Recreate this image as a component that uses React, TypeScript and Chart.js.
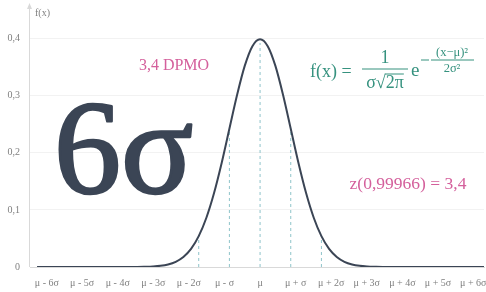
import React, { useEffect, useRef } from "react";
import { Chart, registerables } from "chart.js";

Chart.register(...registerables);

// Curve points (x in σ units from μ, y = density)
const curveX = [-7.27, -4, -3.75, -3.5, -3.25, -3, -2.75, -2.5, -2.25, -2, -1.75, -1.5, -1.25, -1, -0.75, -0.5, -0.25, 0, 0.25, 0.5, 0.75, 1, 1.25, 1.5, 1.75, 2, 2.25, 2.5, 2.75, 3, 3.25, 3.5, 3.75, 4, 7.3];
const curveY = [0, 0.0001, 0.0004, 0.0009, 0.002, 0.0044, 0.0091, 0.0175, 0.0317, 0.054, 0.0863, 0.1295, 0.1826, 0.242, 0.3011, 0.3521, 0.3867, 0.3989, 0.3867, 0.3521, 0.3011, 0.242, 0.1826, 0.1295, 0.0863, 0.054, 0.0317, 0.0175, 0.0091, 0.0044, 0.002, 0.0009, 0.0004, 0.0001, 0];

// Dashed markers at μ ± kσ
const markerX = [-2, -1, 0, 1, 2];
const markerY = [0.054, 0.242, 0.392, 0.242, 0.054];

// Category-like x tick labels and their positions
const xTickPositions = [-6.95, -5.8, -4.64, -3.48, -2.32, -1.16, 0, 1.16, 2.32, 3.48, 4.64, 5.8, 6.95];
const xTickLabels = ["μ - 6σ", "μ - 5σ", "μ - 4σ", "μ - 3σ", "μ - 2σ", "μ - σ", "μ", "μ + σ", "μ + 2σ", "μ + 3σ", "μ + 4σ", "μ + 5σ", "μ + 6σ"];

const yTicks = [0, 0.1, 0.2, 0.3, 0.4];
const yTickLabels = ["0", "0,1", "0,2", "0,3", "0,4"];

const TEAL = "#36927f";
const PINK = "#d4609c";
const DARK = "#3b4555";
const GRAY = "#7f7f7f";

const textPlugin = {
  id: "texts",
  beforeDatasetsDraw(chart: any) {
    const ctx = chart.ctx as CanvasRenderingContext2D;
    ctx.save();
    ctx.textBaseline = "alphabetic";

    // big 6σ
    ctx.fillStyle = DARK;
    ctx.strokeStyle = DARK;
    ctx.lineWidth = 2.5;
    ctx.lineJoin = "round";
    ctx.textAlign = "left";
    ctx.font = "134px 'Liberation Serif'";
    ctx.fillText("6σ", 54, 193);
    ctx.strokeText("6σ", 54, 193);

    // 3,4 DPMO
    ctx.fillStyle = PINK;
    ctx.font = "16px 'Liberation Serif'";
    ctx.textAlign = "center";
    ctx.fillText("3,4 DPMO", 174, 70);

    // z(0,99966) = 3,4
    ctx.font = "17.5px 'Liberation Serif'";
    ctx.fillText("z(0,99966) = 3,4", 408, 189);

    // formula
    ctx.fillStyle = TEAL;
    ctx.strokeStyle = TEAL;
    ctx.font = "18px 'Liberation Serif'";
    ctx.textAlign = "left";
    ctx.fillText("f(x) =", 310, 77);
    // fraction bar
    ctx.lineWidth = 1.2;
    ctx.beginPath();
    ctx.moveTo(362, 69);
    ctx.lineTo(408, 69);
    ctx.stroke();
    ctx.textAlign = "center";
    ctx.fillText("1", 385, 63);
    // denominator σ√2π
    const den = "σ√2π";
    const wDen = ctx.measureText(den).width;
    const x0 = 385 - wDen / 2;
    ctx.textAlign = "left";
    ctx.fillText(den, x0, 88);
    const wPre = ctx.measureText("σ√").width;
    ctx.lineWidth = 1;
    ctx.beginPath();
    ctx.moveTo(x0 + wPre - 1, 74);
    ctx.lineTo(x0 + wDen, 74);
    ctx.stroke();
    // e
    ctx.font = "19px 'Liberation Serif'";
    ctx.fillText("e", 411, 76);
    // exponent
    ctx.lineWidth = 1;
    ctx.beginPath();
    ctx.moveTo(421, 60);
    ctx.lineTo(429, 60);
    ctx.moveTo(431, 60);
    ctx.lineTo(474, 60);
    ctx.stroke();
    ctx.font = "12.5px 'Liberation Serif'";
    ctx.textAlign = "center";
    ctx.fillText("(x−μ)²", 452, 56);
    ctx.fillText("2σ²", 452, 72);

    ctx.restore();
  },
  afterDraw(chart: any) {
    const ctx = chart.ctx as CanvasRenderingContext2D;
    const area = chart.chartArea;
    ctx.save();
    // y axis with arrow
    ctx.strokeStyle = "#d9d9d9";
    ctx.fillStyle = "#d9d9d9";
    ctx.lineWidth = 1;
    const ax = area.left - 0.5;
    ctx.beginPath();
    ctx.moveTo(ax, area.bottom);
    ctx.lineTo(ax, 6);
    ctx.stroke();
    ctx.beginPath();
    ctx.moveTo(ax, 3);
    ctx.lineTo(ax - 2.5, 9);
    ctx.lineTo(ax + 2.5, 9);
    ctx.closePath();
    ctx.fill();
    // f(x) label
    ctx.fillStyle = GRAY;
    ctx.font = "10px 'Liberation Serif'";
    ctx.textAlign = "left";
    ctx.textBaseline = "middle";
    ctx.fillText("f(x)", 35, 13);
    ctx.restore();
  },
};

export default function App() {
  const ref = useRef<HTMLCanvasElement>(null);

  useEffect(() => {
    const canvas = ref.current!;
    const curve = curveX.map((x, i) => ({ x, y: curveY[i] }));
    const markerSets = markerX.map((x, i) => ({
      type: "line" as const,
      data: [
        { x, y: 0 },
        { x, y: markerY[i] },
      ],
      borderColor: "#8fc4ca",
      borderWidth: 1,
      borderDash: [3, 3],
      pointRadius: 0,
      tension: 0,
    }));
    const chart = new Chart(canvas, {
      type: "line",
      data: {
        datasets: [
          {
            data: curve,
            borderColor: DARK,
            borderWidth: 2,
            pointRadius: 0,
            cubicInterpolationMode: "monotone",
            fill: false,
          },
          ...markerSets,
        ] as any,
      },
      options: {
        animation: false,
        responsive: false,
        devicePixelRatio: 1,
        layout: { padding: { top: 10, right: 2, left: 0, bottom: 0 } },
        plugins: { legend: { display: false }, tooltip: { enabled: false } },
        scales: {
          x: {
            type: "linear",
            min: -7.5,
            max: 7.3,
            afterBuildTicks: (scale: any) => {
              scale.ticks = xTickPositions.map((v) => ({ value: v }));
            },
            afterFit: (scale: any) => {
              scale.height = 25;
              scale.paddingLeft = 0;
              scale.paddingRight = 0;
            },
            grid: { display: false, drawTicks: false },
            border: { display: true, color: "#d9d9d9" },
            ticks: {
              autoSkip: false,
              maxRotation: 0,
              padding: 10,
              color: GRAY,
              font: { family: "'Liberation Serif'", size: 10 },
              callback: (_v: any, i: number) => xTickLabels[i],
            },
          },
          y: {
            min: 0,
            max: 0.45,
            afterBuildTicks: (scale: any) => {
              scale.ticks = yTicks.map((v) => ({ value: v }));
            },
            afterFit: (scale: any) => {
              scale.width = 30;
              scale.paddingTop = 0;
              scale.paddingBottom = 0;
            },
            grid: { color: "#f2f2f2", drawTicks: false },
            border: { display: false },
            ticks: {
              padding: 10,
              color: GRAY,
              font: { family: "'Liberation Serif'", size: 10 },
              callback: (_v: any, i: number) => yTickLabels[i],
            },
          },
        },
      },
      plugins: [textPlugin],
    });
    return () => chart.destroy();
  }, []);

  return (
    <div style={{ position: "absolute", left: 0, top: 0, width: 486, height: 292 }}>
      <canvas ref={ref} width={486} height={292} />
    </div>
  );
}
